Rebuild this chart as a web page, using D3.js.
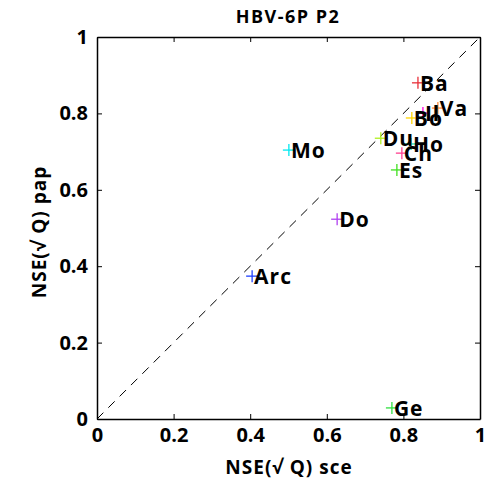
<!DOCTYPE html>
<html><head><meta charset="utf-8">
<script src="https://cdn.jsdelivr.net/npm/d3@7"></script>
<style>body{margin:0;background:#fff;} text{font-family:"Open Sans",sans-serif;}</style>
</head><body>
<svg id="c" width="495" height="486"></svg>
<script>
const labels = ["Ba","Va","Il","Bo","Du","Ho","Ch","Es","Mo","Do","Arc","Ge"];
const sce = [0.838,0.890,0.851,0.822,0.741,0.820,0.796,0.783,0.501,0.627,0.405,0.770];
const pap = [0.880,0.814,0.801,0.788,0.735,0.720,0.696,0.652,0.704,0.523,0.374,0.029];
const colors = ["#e8303a","#ff8c3a","#ff00e0","#ffd400","#b0f020","#20e0b0","#ff4090","#40e020","#00e8f0","#b040f0","#2040ff","#30e040"];
const ticks = [0,0.2,0.4,0.6,0.8,1];
const tickLabels = ["0","0.2","0.4","0.6","0.8","1"];

const svg = d3.select("#c");
const L=97,R=480,T=37,B=419;
const x = d3.scaleLinear().domain([0,1]).range([L,R]);
const y = d3.scaleLinear().domain([0,1]).range([B,T]);

svg.append("line").attr("x1",x(0)).attr("y1",y(0)).attr("x2",x(1)).attr("y2",y(1))
  .attr("stroke","#000").attr("stroke-width",1).attr("stroke-dasharray","9,7");

const fmt = (d,i)=>tickLabels[i];
const ax = svg.append("g").attr("transform",`translate(0,${B})`)
  .call(d3.axisBottom(x).tickValues(ticks).tickFormat(fmt).tickSizeInner(-5).tickSizeOuter(0).tickPadding(9));
const ay = svg.append("g").attr("transform",`translate(${L},0)`)
  .call(d3.axisLeft(y).tickValues(ticks).tickFormat(fmt).tickSizeInner(-5).tickSizeOuter(0).tickPadding(9));
const at = svg.append("g").attr("transform",`translate(0,${T})`)
  .call(d3.axisTop(x).tickValues(ticks).tickFormat("").tickSizeInner(-5).tickSizeOuter(0));
const ar = svg.append("g").attr("transform",`translate(${R},0)`)
  .call(d3.axisRight(y).tickValues(ticks).tickFormat("").tickSizeInner(-5).tickSizeOuter(0));
[ax,ay,at,ar].forEach(g=>{
  g.select(".domain").attr("stroke","#000").attr("stroke-width",1.5);
  g.selectAll(".tick line").attr("stroke","#000");
  g.selectAll("text").attr("font-size",20).attr("font-weight","bold").attr("fill","#000")
   .style("font-family","'Open Sans',sans-serif");
});

const data = labels.map((l,i)=>({l,x:sce[i],y:pap[i],c:colors[i]}));
const s=6;
const g = svg.append("g");
data.forEach(d=>{
  g.append("line").attr("x1",x(d.x)-s).attr("x2",x(d.x)+s).attr("y1",y(d.y)).attr("y2",y(d.y)).attr("stroke",d.c).attr("stroke-width",1.3);
  g.append("line").attr("x1",x(d.x)).attr("x2",x(d.x)).attr("y1",y(d.y)-s).attr("y2",y(d.y)+s).attr("stroke",d.c).attr("stroke-width",1.3);
});
data.forEach(d=>{
  g.append("text").attr("x",x(d.x)+2).attr("y",y(d.y)+8).text(d.l)
   .attr("font-size",21).attr("font-weight","bold").attr("letter-spacing",1).attr("fill","#000");
});

svg.append("text").attr("x",288).attr("y",23).attr("text-anchor","middle")
  .attr("font-size",18).attr("font-weight","bold").attr("letter-spacing",1.5).text("HBV-6P  P2");
svg.append("text").attr("x",289).attr("y",474).attr("text-anchor","middle")
  .attr("font-size",19).attr("font-weight","bold").attr("letter-spacing",1).text("NSE(√ Q)  sce");
svg.append("text").attr("transform","translate(46,232) rotate(-90)").attr("text-anchor","middle")
  .attr("font-size",19).attr("font-weight","bold").attr("letter-spacing",1).text("NSE(√ Q)  pap");
</script>
</body></html>
